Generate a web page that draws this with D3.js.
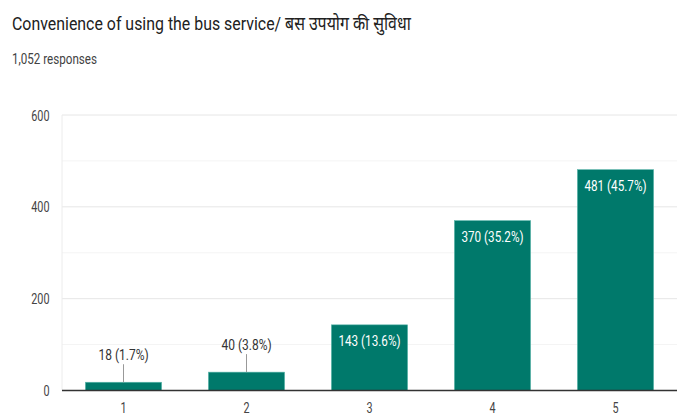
<!DOCTYPE html>
<html>
<head>
<meta charset="utf-8">
<script src="https://cdn.jsdelivr.net/npm/d3@7"></script>
<style>
  html, body { margin: 0; padding: 0; background: #fff; }
  svg { display: block; font-family: Roboto, "Noto Sans", sans-serif; }
</style>
</head>
<body>
<svg id="chart" width="684" height="418"></svg>
<script>
// Survey answers on a 1–5 scale
const categories = ["1", "2", "3", "4", "5"];
const counts = [18, 40, 143, 370, 481];
const percents = ["1.7%", "3.8%", "13.6%", "35.2%", "45.7%"];
const yTicks = [0, 200, 400, 600];
const yMinorTicks = [100, 300, 500];
const titleText = "Convenience of using the bus service/ बस उपयोग की सुविधा";
const subtitleText = "1,052 responses";

const svg = d3.select("#chart");
const W = 684, H = 418;
const margin = { left: 62, right: 7, top: 115, bottom: 27.5 };

const x = d3.scaleBand()
  .domain(categories)
  .range([margin.left, W - margin.right])
  .paddingInner(0.38)
  .paddingOuter(0.19);

const y = d3.scaleLinear()
  .domain([0, 600])
  .range([H - margin.bottom, margin.top]);

// Narrow text: draws a label at (px, py) squeezed horizontally by sx
function narrowText(parent, px, py, str, size, sx, anchor, fill) {
  return parent.append("text")
    .attr("transform", `translate(${px},${py}) scale(${sx},1)`)
    .attr("text-anchor", anchor)
    .attr("font-size", size)
    .attr("fill", fill)
    .text(str);
}

// Title block
narrowText(svg, 12, 29.5, titleText, 18.5, 0.86, "start", "#212121");
narrowText(svg, 12, 64, subtitleText, 14, 0.83, "start", "#424242");

// Gridlines
svg.append("g").selectAll("line")
  .data(yMinorTicks).join("line")
  .attr("x1", margin.left).attr("x2", W - margin.right)
  .attr("y1", d => y(d)).attr("y2", d => y(d))
  .attr("stroke", "#f4f4f4").attr("stroke-width", 1);
svg.append("g").selectAll("line")
  .data(yTicks.filter(d => d > 0)).join("line")
  .attr("x1", margin.left).attr("x2", W - margin.right)
  .attr("y1", d => y(d)).attr("y2", d => y(d))
  .attr("stroke", "#e6e6e6").attr("stroke-width", 1);
svg.append("line")
  .attr("x1", margin.left).attr("x2", margin.left)
  .attr("y1", y(600)).attr("y2", y(0))
  .attr("stroke", "#ececec");

// Y axis labels
const yAxis = d3.axisLeft(y).tickValues(yTicks).tickSize(0).tickFormat("");
svg.append("g").attr("transform", `translate(${margin.left},0)`).call(yAxis)
  .select(".domain").remove();
const yLab = svg.append("g");
yTicks.forEach(t => {
  narrowText(yLab, margin.left - 12.5, y(t) + 5.5, String(t), 15.5, 0.7, "end", "#444");
});

// X axis labels
const xAxis = d3.axisBottom(x).tickSize(0).tickFormat("");
svg.append("g").attr("transform", `translate(0,${y(0)})`).call(xAxis)
  .select(".domain").remove();
const xLab = svg.append("g");
categories.forEach(c => {
  narrowText(xLab, x(c) + x.bandwidth() / 2, y(0) + 22.5, c, 15, 0.72, "middle", "#444");
});

const data = categories.map((c, i) => ({ c, v: counts[i], p: percents[i] }));

// Bars
svg.append("g").selectAll("rect")
  .data(data).join("rect")
  .attr("x", d => x(d.c))
  .attr("width", x.bandwidth())
  .attr("y", d => y(d.v))
  .attr("height", d => y(0) - y(d.v))
  .attr("fill", "#00796b")
  .attr("stroke", "#5fb8ad").attr("stroke-width", 0.6);

// Baseline
svg.append("line")
  .attr("x1", margin.left).attr("x2", W - margin.right)
  .attr("y1", y(0)).attr("y2", y(0))
  .attr("stroke", "#333").attr("stroke-width", 1.3);

// Value labels: inside tall bars, above short bars with a leader line
const labelInside = d => (y(0) - y(d.v)) > 30;
const lab = svg.append("g");
data.forEach(d => {
  const cx = x(d.c) + x.bandwidth() / 2;
  const txt = `${d.v} (${d.p})`;
  if (labelInside(d)) {
    narrowText(lab, cx, y(d.v) + 21.5, txt, 15, 0.78, "middle", "#fff");
  } else {
    const top = y(d.v) - 18;
    lab.append("line")
      .attr("x1", cx).attr("x2", cx)
      .attr("y1", top).attr("y2", y(d.v))
      .attr("stroke", "#999").attr("stroke-width", 1);
    narrowText(lab, cx, top - 4, txt, 15, 0.8, "middle", "#333");
  }
});
</script>
</body>
</html>
